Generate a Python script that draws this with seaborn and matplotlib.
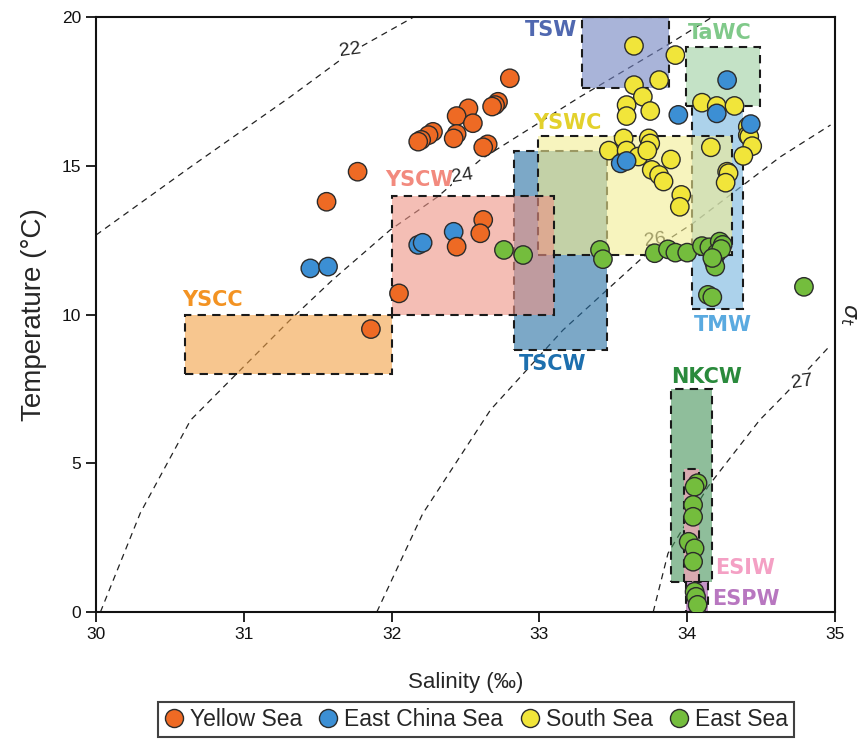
# T-S diagram: water masses and sampled stations
import numpy as np
import pandas as pd
import matplotlib
matplotlib.use("Agg")
import matplotlib.pyplot as plt
import seaborn as sns
from matplotlib.patches import Rectangle
from matplotlib.lines import Line2D
from matplotlib.colors import to_rgba

# ---- station data ----
ys_sal = [32.80, 32.72, 32.70, 32.68, 32.52, 32.44, 32.55, 32.28, 32.25, 32.20, 32.18,
          32.44, 32.42, 32.65, 32.62, 31.77, 31.56, 32.62, 32.60, 32.44, 32.05, 31.86]
ys_temp = [17.94, 17.15, 17.04, 16.99, 16.93, 16.67, 16.43, 16.14, 16.03, 15.87, 15.81,
           16.07, 15.92, 15.72, 15.62, 14.80, 13.79, 13.18, 12.73, 12.28, 10.71, 9.51]

ecs_sal = [31.45, 31.57, 32.18, 32.21, 32.42, 33.55, 33.59, 33.94, 34.27, 34.20, 34.43]
ecs_temp = [11.55, 11.61, 12.34, 12.41, 12.78, 15.08, 15.16, 16.71, 17.88, 16.76, 16.40]

ss_sal = [33.64, 33.92, 33.81, 33.64, 33.70, 33.59, 33.59, 33.75, 34.10, 34.20, 34.32,
          34.41, 34.41, 33.57, 33.74, 33.75, 33.47, 33.59, 33.67, 33.73, 33.89, 33.76,
          33.81, 33.84, 33.96, 33.95, 34.16, 34.42, 34.44, 34.38, 34.27, 34.28, 34.26]
ss_temp = [19.03, 18.72, 17.88, 17.71, 17.32, 17.04, 16.67, 16.84, 17.12, 17.01, 17.01,
           16.31, 16.03, 15.92, 15.92, 15.75, 15.51, 15.51, 15.31, 15.51, 15.21, 14.86,
           14.69, 14.47, 14.02, 13.62, 15.62, 15.98, 15.66, 15.33, 14.80, 14.75, 14.43]

es_sal = [32.76, 32.89, 33.41, 33.43, 33.78, 33.87, 33.92, 34.00, 34.10, 34.15, 34.22,
          34.24, 34.20, 34.18, 34.19, 34.23, 34.17, 34.14, 34.17, 34.79,
          34.07, 34.05, 34.04, 34.04, 34.01, 34.05, 34.04, 34.05, 34.06, 34.07]
es_temp = [12.17, 12.00, 12.17, 11.86, 12.06, 12.19, 12.08, 12.08, 12.30, 12.26, 12.45,
           12.34, 12.06, 11.78, 11.61, 12.20, 11.90, 10.66, 10.58, 10.93,
           4.33, 4.21, 3.60, 3.20, 2.36, 2.14, 1.69, 0.68, 0.51, 0.24]

regions = ["Yellow Sea", "East China Sea", "South Sea", "East Sea"]
region_colors = ["#ee6a24", "#3c8fd4", "#f1e53a", "#74bd3d"]

# ---- water mass boxes ----
mass_names = ["YSCC", "TSCW", "TMW", "YSWC", "YSCW", "TSW", "TaWC", "NKCW", "ESIW", "ESPW"]
mass_s0 = [30.60, 32.83, 34.03, 32.99, 32.00, 33.29, 33.99, 33.89, 33.98, 33.99]
mass_s1 = [32.00, 33.46, 34.38, 34.30, 33.10, 33.88, 34.49, 34.17, 34.08, 34.14]
mass_t0 = [8.0, 8.8, 10.2, 12.0, 10.0, 17.6, 17.0, 1.0, 1.0, 0.0]
mass_t1 = [10.0, 15.5, 17.0, 16.0, 14.0, 20.0, 19.0, 7.5, 4.8, 1.0]
mass_fill = ["#f2a044", "#256ea3", "#75b4de", "#f3ed93", "#ed9385",
             "#7182c1", "#9dcfa0", "#449358", "#d9aab0", "#c595c8"]
mass_alpha = [0.6, 0.6, 0.6, 0.6, 0.6, 0.6, 0.6, 0.6, 1.0, 1.0]

label_s = [30.79, 33.09, 34.24, 33.19, 32.19, 33.08, 34.22, 34.13, 34.39, 34.40]
label_t = [10.49, 8.34, 9.65, 16.44, 14.52, 19.56, 19.46, 7.90, 1.48, 0.44]
label_colors = ["#f39323", "#1d6fae", "#5aaae0", "#e3d12c", "#f28a7e",
                "#5068b0", "#80c98a", "#2a8a3c", "#f4a0c4", "#b877c0"]

# ---- isopycnals (sigma-t) ----
sig22_s = [30.00, 30.64, 31.31, 31.72, 32.15]
sig22_t = [12.67, 14.96, 17.30, 18.80, 20.00]
sig24_s = [30.03, 30.30, 30.64, 30.93, 31.31, 31.60, 31.99, 32.31, 32.60, 33.27, 33.88, 34.17]
sig24_t = [0.00, 3.33, 6.45, 7.90, 9.80, 11.16, 12.84, 13.95, 15.20, 17.30, 19.10, 20.00]
sig26_s = [31.90, 32.21, 32.67, 33.16, 33.73, 34.04, 34.63, 34.97]
sig26_t = [0.00, 3.30, 6.80, 9.48, 12.06, 13.07, 15.30, 16.37]
sig27_s = [33.77, 33.87, 34.14, 34.28, 34.49, 34.67, 34.97]
sig27_t = [0.00, 1.97, 4.21, 5.11, 6.45, 7.36, 8.97]

sig_labels = ["22", "24", "26", "27"]
sig_label_s = [31.72, 32.48, 33.78, 34.78]
sig_label_t = [18.89, 14.66, 12.50, 7.73]

# ---- dataframe (draw order: South, East China, Yellow, East) ----
df = pd.concat([
    pd.DataFrame({"Salinity": ss_sal, "Temperature": ss_temp, "Region": "South Sea"}),
    pd.DataFrame({"Salinity": ecs_sal, "Temperature": ecs_temp, "Region": "East China Sea"}),
    pd.DataFrame({"Salinity": ys_sal, "Temperature": ys_temp, "Region": "Yellow Sea"}),
    pd.DataFrame({"Salinity": es_sal, "Temperature": es_temp, "Region": "East Sea"}),
], ignore_index=True)

sns.set_theme(style="ticks")
plt.rcParams['font.family'] = ['Liberation Sans', 'DejaVu Sans']

fig = plt.figure(figsize=(8.68, 7.44), dpi=100)
ax = fig.add_axes([96 / 868, 1 - 612 / 744, 739 / 868, 595 / 744])

# isopycnals
for s, t in [(sig22_s, sig22_t), (sig24_s, sig24_t), (sig26_s, sig26_t), (sig27_s, sig27_t)]:
    ax.plot(s, t, color="#222222", lw=0.9, ls=(0, (5, 4)), zorder=1)
for lab, s, t in zip(sig_labels, sig_label_s, sig_label_t):
    ax.text(s, t, lab, fontsize=14, ha="center", va="center", rotation=8, zorder=1.5,
            bbox=dict(facecolor="white", edgecolor="none", pad=0.5))

# water mass boxes
for i in range(len(mass_names)):
    rect = Rectangle((mass_s0[i], mass_t0[i]), mass_s1[i] - mass_s0[i], mass_t1[i] - mass_t0[i],
                     facecolor=to_rgba(mass_fill[i], mass_alpha[i]), edgecolor="#1a1a1a",
                     lw=1.5, ls=(0, (4, 3)), zorder=2 + i * 0.01)
    ax.add_patch(rect)
    ax.text(label_s[i], label_t[i], mass_names[i], color=label_colors[i], fontsize=15,
            fontweight="bold", family="DejaVu Sans", ha="center", va="center", zorder=5)

# stations
sns.scatterplot(data=df, x="Salinity", y="Temperature", hue="Region",
                palette=dict(zip(regions, region_colors)), s=175,
                edgecolor="#2b2b2b", linewidth=1, legend=False, ax=ax, zorder=4)

ax.set_xlim(30, 35)
ax.set_ylim(0, 20)
ax.set_xticks([30, 31, 32, 33, 34, 35])
ax.set_yticks([0, 5, 10, 15, 20])
ax.tick_params(direction="out", length=7, width=1.3, labelsize=12.5, colors="#111111")
for sp in ax.spines.values():
    sp.set_linewidth(1.5)
    sp.set_color("#111111")
ax.set_xlabel("Salinity (‰)", fontsize=16, labelpad=22)
ax.set_ylabel("Temperature (°C)", fontsize=20, labelpad=11)

ax.text(1.018, 0.5, r"$\sigma_t$", transform=ax.transAxes, rotation=270,
        fontsize=16, ha="center", va="center")

handles = [Line2D([0], [0], marker="o", ls="", markersize=13, markerfacecolor=c,
                  markeredgecolor="#2b2b2b", markeredgewidth=1) for c in region_colors]
leg = ax.legend(handles, regions, loc="upper center", bbox_to_anchor=(0.514, -0.152),
                ncol=4, frameon=True, fancybox=False, fontsize=16.5,
                handletextpad=0.25, columnspacing=0.7, handlelength=0.9,
                borderpad=0.25, borderaxespad=0)
leg.get_frame().set_edgecolor("#111111")
leg.get_frame().set_linewidth(1.5)

plt.savefig("out.png", dpi=100)
